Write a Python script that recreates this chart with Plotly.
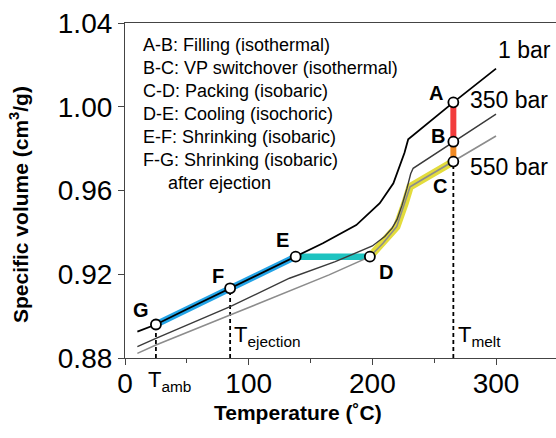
import plotly.graph_objects as go

# ---------------- data ----------------
# 1 bar isobar
t_1bar = [10, 25, 50, 85, 110, 138, 160, 187, 206, 217, 222, 226, 229, 265.5, 300]
v_1bar = [0.8926, 0.8960, 0.9033, 0.9133, 0.9205, 0.9284, 0.9348, 0.9435, 0.9539,
          0.9634, 0.9714, 0.9780, 0.9845, 1.0021, 1.0182]
# 350 bar isobar
t_350 = [10, 25, 85, 133, 170, 200, 210, 216, 220, 224, 228, 231, 233, 265.5, 300]
v_350 = [0.8854, 0.8894, 0.9045, 0.9181, 0.9260, 0.9335, 0.9380, 0.9420, 0.9462,
         0.9530, 0.9610, 0.9680, 0.9706, 0.9833, 0.9965]
# 550 bar isobar
t_550 = [10, 25, 85, 125, 165, 198, 208.6, 219.7, 226.4, 230.5, 234, 265.5, 300]
v_550 = [0.8822, 0.8862, 0.9005, 0.9101, 0.9197, 0.9284, 0.9348, 0.9427, 0.9539,
         0.9618, 0.9630, 0.9738, 0.9860]

# process points A..G
pt_names = ["A", "B", "C", "D", "E", "F", "G"]
pt_t = [265.5, 265.5, 265.5, 198, 138, 85, 25]
pt_v = [1.0021, 0.9833, 0.9738, 0.9284, 0.9284, 0.9133, 0.8960]

# characteristic temperatures
t_amb, t_eject, t_melt = 25, 85, 265.5

legend_lines = [
    "A-B: Filling (isothermal)",
    "B-C: VP switchover (isothermal)",
    "C-D: Packing (isobaric)",
    "D-E: Cooling (isochoric)",
    "E-F: Shrinking (isobaric)",
    "F-G: Shrinking (isobaric)",
    "after ejection",
]
pressure_labels = ["1 bar", "350 bar", "550 bar"]

x_ticks = [0, 100, 200, 300]
y_ticks = [0.88, 0.92, 0.96, 1.00, 1.04]

# ---------------- figure ----------------
FONT = "Liberation Sans, Arial, sans-serif"
W, H = 556, 438
ML, MR, MT, MB = 125, 0, 23, 80
XR = [0, 348.5]
YR = [0.88, 1.04]

fig = go.Figure()

def line(x, y, color, width, dash=None):
    fig.add_trace(go.Scatter(x=x, y=y, mode="lines", hoverinfo="skip",
                             line=dict(color=color, width=width, dash=dash),
                             showlegend=False))

# highlight bands (underneath)
iG, iE = t_1bar.index(25), t_1bar.index(138)
line(t_1bar[iG:iE + 1], v_1bar[iG:iE + 1], "#22a3e6", 6.5)          # E-F-G
iD, iC = t_550.index(198), t_550.index(265.5)
line(t_550[iD:iC + 1], v_550[iD:iC + 1], "#e3dc3c", 7.5)            # C-D
line([pt_t[4], pt_t[3]], [pt_v[4], pt_v[3]], "#1ec3c0", 6.5)        # D-E
line([pt_t[0], pt_t[1]], [pt_v[0], pt_v[1]], "#f23c3c", 6)          # A-B
line([pt_t[1], pt_t[2]], [pt_v[1], pt_v[2]], "#f08a24", 6)          # B-C

# dashed temperature markers
line([t_amb, t_amb], [YR[0], pt_v[6]], "black", 1.8, "4px,3px")
line([t_eject, t_eject], [YR[0], pt_v[5]], "black", 1.8, "4px,3px")
line([t_melt, t_melt], [YR[0], pt_v[2]], "black", 1.8, "4px,3px")

# isobars
line(t_550, v_550, "#8c8c8c", 1.6)
line(t_350, v_350, "#3a3a3a", 1.4)
line(t_1bar, v_1bar, "#000000", 1.8)

# points
fig.add_trace(go.Scatter(x=pt_t, y=pt_v, mode="markers", hoverinfo="skip",
                         marker=dict(size=10, color="white",
                                     line=dict(color="black", width=1.8)),
                         showlegend=False))

ann = []
# point letters
offs = {"A": (-17, 9), "B": (-15, 6), "C": (-13, -24), "D": (16, -15),
        "E": (-13, 17), "F": (-12, 12), "G": (-15, 15)}
for n, t, v in zip(pt_names, pt_t, pt_v):
    dx, dy = offs[n]
    ann.append(dict(x=t, y=v, text="<b>%s</b>" % n, showarrow=False,
                    xshift=dx, yshift=dy, font=dict(size=20, color="black", family=FONT)))

def px_to_paper(px, py):
    return (px - ML) / (W - ML - MR), (H - MB - py) / (H - MT - MB)

# legend text block
ys = [45, 68, 91, 114, 137, 160, 183]
for i, (txt, py) in enumerate(zip(legend_lines, ys)):
    px = 166 if i == len(legend_lines) - 1 else 141
    x, y = px_to_paper(px, py)
    ann.append(dict(x=x, y=y, xref="paper", yref="paper", text=txt, showarrow=False,
                    xanchor="left", yanchor="middle",
                    font=dict(size=18, color="black", family=FONT)))

# pressure labels
for txt, (px, py) in zip(pressure_labels, [(496, 50), (468, 100), (468, 167)]):
    x, y = px_to_paper(px, py)
    ann.append(dict(x=x, y=y, xref="paper", yref="paper", text=txt, showarrow=False,
                    xanchor="left", yanchor="middle",
                    font=dict(size=23, color="black", family=FONT)))

# temperature labels
for txt, (px, py) in zip(["T<sub>amb</sub>", "T<sub>ejection</sub>", "T<sub>melt</sub>"],
                         [(146, 381), (232, 336), (456, 336)]):
    x, y = px_to_paper(px, py)
    ann.append(dict(x=x, y=y, xref="paper", yref="paper", text=txt, showarrow=False,
                    xanchor="left", yanchor="middle",
                    font=dict(size=22, color="black", family=FONT)))

# axis titles
x, y = px_to_paper(298, 412)
ann.append(dict(x=x, y=y, xref="paper", yref="paper", showarrow=False,
                text="<b>Temperature (˚C)</b>", xanchor="center", yanchor="middle",
                font=dict(size=21, color="black", family=FONT)))
x, y = px_to_paper(19, 205)
ann.append(dict(x=x, y=y, xref="paper", yref="paper", showarrow=False, textangle=-90,
                text="<b>Specific volume (cm<sup>3</sup>/g)</b>", xanchor="center",
                yanchor="middle", font=dict(size=21, color="black", family=FONT)))

fig.update_layout(
    width=W, height=H,
    margin=dict(l=ML, r=MR, t=MT, b=MB, autoexpand=False),
    paper_bgcolor="white", plot_bgcolor="white",
    font=dict(family=FONT, color="black"),
    annotations=ann,
    xaxis=dict(range=XR, tickvals=x_ticks, ticks="outside", ticklen=6, tickwidth=1,
               tickcolor="#444", showline=True, linecolor="#444", linewidth=1.2,
               mirror=True, showgrid=False, zeroline=False, automargin=False,
               ticklabelstandoff=-6,
               tickfont=dict(size=28, family=FONT),
               minor=dict(tickvals=[50, 150, 250], ticks="outside", ticklen=4,
                          tickcolor="#444")),
    yaxis=dict(range=YR, tickvals=y_ticks, ticktext=["%.2f" % v for v in y_ticks],
               ticks="outside", ticklen=6, tickwidth=1, tickcolor="#444",
               showline=True, linecolor="#444", linewidth=1.2, showgrid=False,
               zeroline=False, automargin=False, tickfont=dict(size=28, family=FONT)),
)

fig.write_html("out.html", config={"displayModeBar": False},
               post_script="document.body.style.margin='0';document.body.style.overflow='hidden';")
